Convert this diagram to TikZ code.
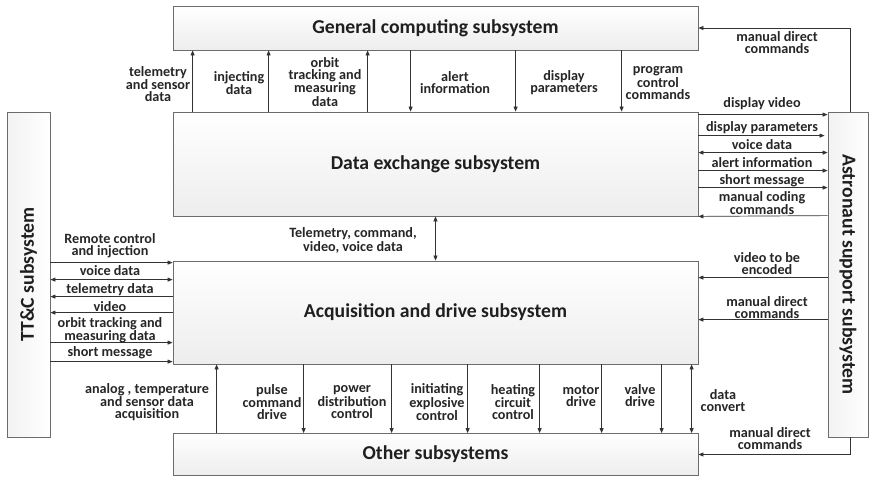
\documentclass[tikz,border=0pt]{standalone}
\usepackage{fontspec}
\setmainfont{Carlito}
\usetikzlibrary{arrows.meta}
\tikzset{
  box/.style={draw=gray!85!black, line width=0.8pt, top color=white, bottom color=gray!14, minimum width=525pt, inner sep=0pt},
  sidebox/.style={draw=gray!85!black, line width=0.8pt, left color=gray!10, right color=white, inner sep=0pt},
  title/.style={font=\bfseries\fontsize{19.7}{22}\selectfont, text=black!88},
  lab/.style={font=\bfseries\fontsize{14.2}{12}\selectfont, align=center, inner sep=0pt, text=black!85},
  arr/.style={draw=black!80, line width=0.7pt, -{Triangle[length=5pt,width=4pt]}},
  darr/.style={draw=black!80, line width=0.7pt, {Triangle[length=5pt,width=4pt]}-{Triangle[length=5pt,width=4pt]}},
}
\begin{document}
\begin{tikzpicture}[x=1pt,y=-1pt]
\useasboundingbox (0,0) rectangle (869,477);
% boxes
\node[box, minimum height=44pt, title] (gc) at (435.5,28) {General computing subsystem};
\node[box, minimum height=104pt, title] (de) at (435.5,164) {Data exchange subsystem};
\node[box, minimum height=103pt, title] (acq) at (435.5,312.5) {Acquisition and drive subsystem};
\node[box, minimum height=42pt, title] (oth) at (435.5,454.5) {Other subsystems};
\node[sidebox, minimum width=43pt, minimum height=325pt] (ttc) at (28.5,274.5) {};
\node[title, rotate=90] (ttct) at (ttc.center) {TT\&C subsystem};
\node[sidebox, minimum width=40pt, minimum height=325pt] (ast) at (848,274.5) {};
\node[title, rotate=-90] (astt) at (ast.center) {Astronaut support subsystem};

% GC <-> DE
\draw[arr] ([xshift=20pt]de.north west) -- ([xshift=20pt]gc.south west);
\draw[arr] ([xshift=96pt]de.north west) -- ([xshift=96pt]gc.south west);
\draw[arr] ([xshift=195pt]de.north west) -- ([xshift=195pt]gc.south west);
\draw[arr] ([xshift=238pt]gc.south west) -- ([xshift=238pt]de.north west);
\draw[arr] ([xshift=343pt]gc.south west) -- ([xshift=343pt]de.north west);
\draw[arr] ([xshift=449pt]gc.south west) -- ([xshift=449pt]de.north west);
\node[lab] (l1) at (158,84) {telemetry\\and sensor\\data};
\node[lab] (l2) at (239,83) {injecting\\data};
\node[lab] (l3) at (325,82) {orbit\\tracking and\\measuring\\data};
\node[lab] (l4) at (455,83) {alert\\information};
\node[lab] (l5) at (564,83) {display\\parameters};
\node[lab] (l6) at (658,83) {program\\control\\commands};

% Astronaut -> GC
\draw[arr] ([xshift=2pt]ast.north) |- (gc.east);
\node[lab] (l7) at (777,42.5) {manual direct\\commands};

% DE <-> Astronaut
\draw[arr] ([yshift=-3pt]de.north east) -- ([yshift=-3pt]ast.north west);
\draw[arr] ([yshift=-24pt]de.north east) -- ([yshift=-24pt,xshift=-3pt]ast.north west);
\draw[darr] ([yshift=-41pt]de.north east) -- ([yshift=-41pt]ast.north west);
\draw[arr] ([yshift=-59pt]de.north east) -- ([yshift=-59pt]ast.north west);
\draw[arr] ([yshift=-76pt]de.north east) -- ([yshift=-76pt]ast.north west);
\draw[arr] ([yshift=-104pt]ast.north west) -- (de.south east);
\node[lab] (r1) at (762,104) {display video};
\node[lab] (r2) at (762,128) {display parameters};
\node[lab] (r3) at (762,145) {voice data};
\node[lab] (r4) at (762,163) {alert information};
\node[lab] (r5) at (762,181) {short message};
\node[lab] (r6) at (762,203) {manual coding\\commands};

% DE <-> ACQ
\draw[darr] (de.south) -- (acq.north);
\node[lab] (m1) at (353,240.5) {Telemetry, command,\\video, voice data};

% TT&C <-> ACQ
\coordinate (a1) at ([yshift=-2pt]acq.north west);
\coordinate (a2) at ([yshift=-19pt]acq.north west);
\coordinate (a3) at ([yshift=-36pt]acq.north west);
\coordinate (a4) at ([yshift=-52pt]acq.north west);
\coordinate (a5) at ([yshift=-82pt]acq.north west);
\coordinate (a6) at ([yshift=-101pt]acq.north west);
\draw[arr] (ttc.east |- a1) -- (a1);
\draw[darr] (ttc.east |- a2) -- (a2);
\draw[arr] (a3) -- (ttc.east |- a3);
\draw[arr] (a4) -- (ttc.east |- a4);
\draw[arr] (ttc.east |- a5) -- (a5);
\draw[arr] (ttc.east |- a6) -- (a6);
\node[lab] (t1) at (110,245.5) {Remote control\\and injection};
\node[lab] (t2) at (110,271) {voice data};
\node[lab] (t3) at (110,289.5) {telemetry data};
\node[lab] (t4) at (110,306.5) {video};
\node[lab] (t5) at (110,330) {orbit tracking and\\measuring data};
\node[lab] (t6) at (110,353) {short message};

% Astronaut -> ACQ
\coordinate (b1) at ([yshift=-17pt]acq.north east);
\coordinate (b2) at ([yshift=-59pt]acq.north east);
\draw[arr] (ast.west |- b1) -- (b1);
\draw[arr] (ast.west |- b2) -- (b2);
\node[lab] (s1) at (767,264) {video to be\\encoded};
\node[lab] (s2) at (767,307.5) {manual direct\\commands};

% ACQ <-> Other
\draw[arr] ([xshift=44pt]oth.north west) -- ([xshift=44pt]acq.south west);
\draw[arr] ([xshift=131pt]acq.south west) -- ([xshift=131pt]oth.north west);
\draw[arr] ([xshift=219pt]acq.south west) -- ([xshift=219pt]oth.north west);
\draw[arr] ([xshift=295pt]acq.south west) -- ([xshift=295pt]oth.north west);
\draw[arr] ([xshift=367pt]acq.south west) -- ([xshift=367pt]oth.north west);
\draw[arr] ([xshift=429pt]acq.south west) -- ([xshift=429pt]oth.north west);
\draw[arr] ([xshift=489pt]acq.south west) -- ([xshift=489pt]oth.north west);
\draw[darr] ([xshift=519pt]acq.south west) -- ([xshift=519pt]oth.north west);
\node[lab] (o1) at (147,402) {analog , temperature\\and sensor data\\acquisition};
\node[lab] (o2) at (272,402) {pulse\\command\\drive};
\node[lab] (o3) at (352,402) {power\\distribution\\control};
\node[lab] (o4) at (437,402) {initiating\\explosive\\control};
\node[lab] (o5) at (513,402) {heating\\circuit\\control};
\node[lab] (o6) at (581,396) {motor\\drive};
\node[lab] (o7) at (640,396) {valve\\drive};
\node[lab] (o8) at (723,401) {data\\convert};

% Astronaut -> Other
\draw[arr] ([xshift=2pt]ast.south) |- (oth.east);
\node[lab] (s3) at (770,439) {manual direct\\commands};
\end{tikzpicture}
\end{document}
